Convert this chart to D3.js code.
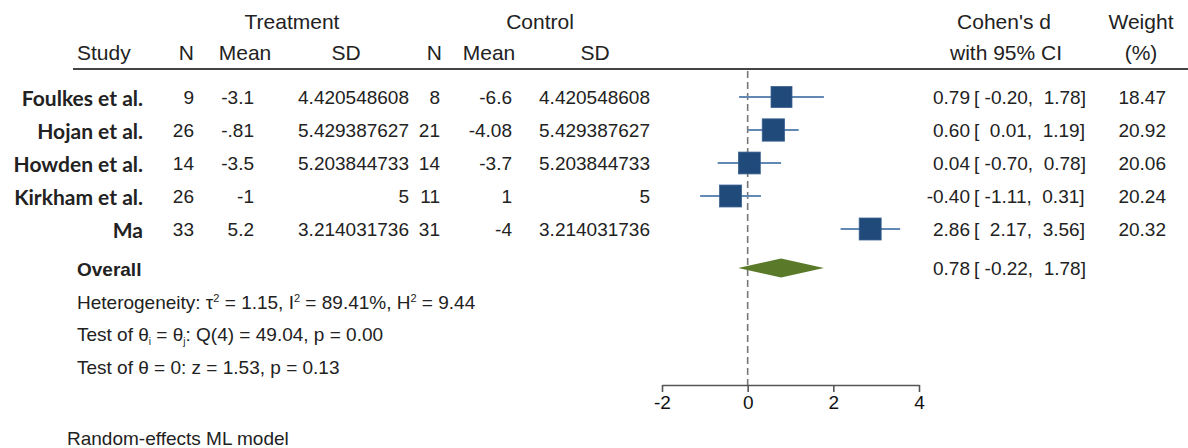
<!DOCTYPE html>
<html><head><meta charset="utf-8">
<script src="https://cdn.jsdelivr.net/npm/d3@7/dist/d3.min.js"></script>
<style>
body{margin:0;background:#fff;}
svg text, svg tspan{font-family:"Liberation Sans",Arial,sans-serif;fill:#222;white-space:pre;}
</style></head>
<body><svg id="c" width="1188" height="448"></svg>
<script>
const studies = ["Foulkes et al.","Hojan et al.","Howden et al.","Kirkham et al.","Ma"];
const tN = ["9","26","14","26","33"];
const tMean = ["-3.1","-.81","-3.5","-1","5.2"];
const tSD = ["4.420548608","5.429387627","5.203844733","5","3.214031736"];
const cN = ["8","21","14","11","31"];
const cMean = ["-6.6","-4.08","-3.7","1","-4"];
const cSD = ["4.420548608","5.429387627","5.203844733","5","3.214031736"];
const es = [0.79, 0.60, 0.04, -0.40, 2.86];
const lo = [-0.20, 0.01, -0.70, -1.11, 2.17];
const hi = [1.78, 1.19, 0.78, 0.31, 3.56];
const weight = [18.47, 20.92, 20.06, 20.24, 20.32];
const overall = {es:0.78, lo:-0.22, hi:1.78};
const axisTicks = ["-2","0","2","4"];

const svg = d3.select("#c");
const FS = 19, FH = 21;
const rowY = d3.scalePoint().domain(studies).range([97,229]);
const x = d3.scaleLinear().domain([-2,4]).range([662,919]);
const side = d3.scaleSqrt().domain([0,20.92]).range([0,22.3]);

function txt(xp,y,s,anchor,opts={}){
  const t = svg.append("text").attr("x",xp).attr("y",y).attr("text-anchor",anchor||"start")
    .style("font-size",(opts.fs||FS)+"px").text(s);
  if(opts.bold) t.style("font-weight",opts.bold===true?"bold":opts.bold);
  if(opts.family) t.style("font-family",opts.family);
  return t;
}
const f2 = v => d3.format(".2f")(v).replace("\u2212","-");

// headers
txt(292,29,"Treatment","middle",{fs:FH});
txt(540,29,"Control","middle",{fs:FH});
txt(1004,29,"Cohen's d","middle",{fs:FH});
txt(1141,29,"Weight","middle",{fs:FH});
txt(77,60,"Study","start",{fs:FH});
txt(194,60,"N","end",{fs:FH});
txt(245,60,"Mean","middle",{fs:FH});
txt(346,60,"SD","middle",{fs:FH});
txt(442,60,"N","end",{fs:FH});
txt(489,60,"Mean","middle",{fs:FH});
txt(595,60,"SD","middle",{fs:FH});
txt(1006,60,"with 95% CI","middle",{fs:FH});
txt(1141,60,"(%)","middle",{fs:FH});
svg.append("line").attr("x1",73).attr("x2",1188).attr("y1",69).attr("y2",69)
  .attr("stroke","#444").attr("stroke-width",2);

// zero line
svg.append("line").attr("x1",x(0)).attr("x2",x(0)).attr("y1",71).attr("y2",385)
  .attr("stroke","#777").attr("stroke-width",1.6).attr("stroke-dasharray","7,4");

// rows
studies.forEach((s,i)=>{
  const y = rowY(s);
  txt(143,y+9,s,"end",{bold:"700",family:"Lato,sans-serif",fs:21});
  txt(194,y+7,tN[i],"end");
  txt(254,y+7,tMean[i],"end");
  txt(409,y+7,tSD[i],"end");
  txt(440,y+7,cN[i],"end");
  txt(512,y+7,cMean[i],"end");
  txt(650,y+7,cSD[i],"end");
  txt(970,y+7,f2(es[i]),"end");
  txt(974,y+7,"["+(lo[i]<0?" ":"  ")+f2(lo[i])+",  "+f2(hi[i])+"]","start");
  txt(1166,y+7,f2(weight[i]),"end");
  svg.append("line").attr("x1",x(lo[i])).attr("x2",x(hi[i])).attr("y1",y).attr("y2",y)
    .attr("stroke","#6288b4").attr("stroke-width",2);
  const w = side(weight[i]);
  svg.append("rect").attr("x",x(es[i])-w/2).attr("y",y-w/2).attr("width",w).attr("height",w)
    .attr("fill","#1f4a7a").attr("stroke","#3a6090").attr("stroke-width",0.8);
});

// overall
const oy = 268;
svg.append("path").attr("d",`M${x(overall.lo)},${oy}L${x(overall.es)},${oy-9.5}L${x(overall.hi)},${oy}L${x(overall.es)},${oy+9.5}Z`)
  .attr("fill","#5a7a2a");
txt(77,oy+8,"Overall","start",{bold:true,fs:19});
txt(970,oy+7,f2(overall.es),"end");
txt(974,oy+7,"[ "+f2(overall.lo)+",  "+f2(overall.hi)+"]","start");

// stats
const FS2 = 19;
function sp(t,s,dy,fs){
  const e = t.append("tspan").attr("fill","#222").style("fill","#222").text(s);
  if(dy) e.attr("dy",dy);
  if(fs) e.style("font-size",fs+"px");
  return e;
}
let t = txt(77,309,"","start",{fs:FS2});
sp(t,"Heterogeneity: τ"); sp(t,"2",-7,11); sp(t," = 1.15, I",7);
sp(t,"2",-7,11); sp(t," = 89.41%, H",7); sp(t,"2",-7,11); sp(t," = 9.44",7);

t = txt(77,341,"","start",{fs:FS2});
sp(t,"Test of θ"); sp(t,"i",4,10); sp(t," = θ",-4); sp(t,"j",4,10);
sp(t,": Q(4) = 49.04, p = 0.00",-4);

txt(77,374,"Test of θ = 0: z = 1.53, p = 0.13","start",{fs:FS2});
txt(67,445,"Random-effects ML model","start",{fs:FS2});

// axis
const ax = svg.append("g").attr("transform","translate(0,385)")
  .call(d3.axisBottom(x).tickValues(axisTicks.map(Number)).tickSize(7).tickSizeOuter(0)
    .tickFormat((d,i)=>axisTicks[i]));
ax.select(".domain").attr("stroke","#555").attr("stroke-width",1.6);
ax.selectAll(".tick line").attr("stroke","#555").attr("stroke-width",1.6);
ax.selectAll(".tick text").style("font-size","19px").style("font-family","'Liberation Sans',Arial,sans-serif")
  .attr("fill","#111").style("fill","#111").attr("y",11);
</script></body></html>
